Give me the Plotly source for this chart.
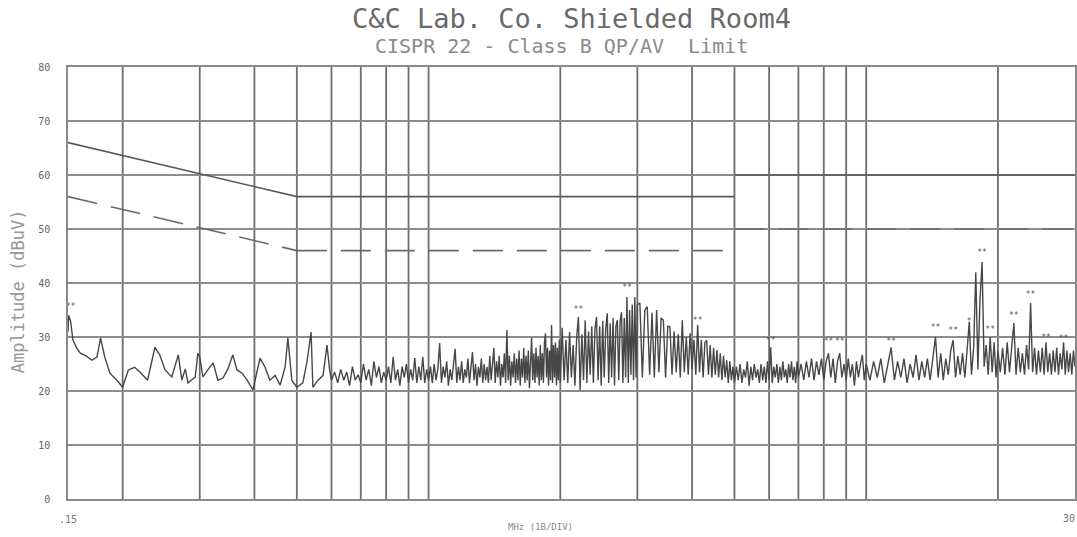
import math
import plotly.graph_objects as go

# ---------------- data ----------------
# 0.15 - 0.6 MHz trace
r1_freq = [0.150, 0.1505, 0.152, 0.154, 0.157, 0.160, 0.165, 0.170, 0.1747, 0.178,
           0.182, 0.187, 0.194, 0.200, 0.206, 0.213, 0.219, 0.228, 0.237, 0.243,
           0.250, 0.259, 0.268, 0.273, 0.278, 0.282, 0.293, 0.297, 0.300, 0.305,
           0.313, 0.322, 0.330, 0.339, 0.348, 0.357, 0.365, 0.375, 0.385, 0.397,
           0.412, 0.423, 0.434, 0.446, 0.458, 0.470, 0.477, 0.487, 0.500, 0.516,
           0.527, 0.539, 0.544, 0.559, 0.574, 0.586, 0.594]
r1_db = [31.0, 34.0, 33.0, 29.4, 28.0, 27.0, 26.5, 25.7, 26.3, 29.8,
         26.3, 23.3, 22.0, 20.7, 23.9, 24.4, 23.5, 22.0, 28.1, 26.7,
         23.9, 22.6, 26.7, 22.0, 24.1, 21.5, 22.6, 27.0, 26.3, 22.6,
         23.9, 25.2, 22.0, 22.4, 24.1, 26.7, 23.9, 23.3, 22.0, 20.2,
         26.1, 24.4, 22.0, 22.9, 21.1, 24.4, 29.8, 22.0, 20.7, 21.5,
         25.2, 30.9, 20.7, 22.0, 22.9, 28.5, 24.0]

# 0.60 - 1.00 MHz
a_freq = [0.60, 0.61, 0.62, 0.63, 0.64, 0.65, 0.66, 0.67, 0.68, 0.69,
          0.70, 0.71, 0.72, 0.73, 0.74, 0.75, 0.76, 0.77, 0.78, 0.79,
          0.80, 0.81, 0.82, 0.83, 0.84, 0.85, 0.86, 0.87, 0.88, 0.89,
          0.90, 0.91, 0.92, 0.93, 0.94, 0.95, 0.96, 0.97, 0.98, 0.99,
          1.00]
a_db = [22.0, 23.5, 21.5, 24.0, 22.0, 23.5, 21.0, 24.5, 22.0, 23.0,
        21.5, 25.0, 22.0, 24.0, 21.0, 25.5, 22.5, 24.5, 21.5, 23.5,
        22.0, 24.5, 21.5, 26.3, 22.0, 24.0, 21.0, 24.5, 22.5, 25.0,
        21.5, 24.0, 22.0, 26.1, 21.5, 24.5, 22.0, 26.3, 21.5, 24.0,
        22.0]

# 1.01 - 2.00 MHz
b_freq = [1.01, 1.02, 1.03, 1.04, 1.05, 1.06, 1.07, 1.08, 1.09, 1.10,
          1.11, 1.12, 1.13, 1.14, 1.15, 1.16, 1.17, 1.18, 1.19, 1.20,
          1.21, 1.22, 1.23, 1.24, 1.25, 1.26, 1.27, 1.28, 1.29, 1.30,
          1.31, 1.32, 1.33, 1.34, 1.35, 1.36, 1.37, 1.38, 1.39, 1.40,
          1.41, 1.42, 1.43, 1.44, 1.45, 1.46, 1.47, 1.48, 1.49, 1.50,
          1.51, 1.52, 1.53, 1.54, 1.55, 1.56, 1.57, 1.58, 1.59, 1.60,
          1.61, 1.62, 1.63, 1.64, 1.65, 1.66, 1.67, 1.68, 1.69, 1.70,
          1.71, 1.72, 1.73, 1.74, 1.75, 1.76, 1.77, 1.78, 1.79, 1.80,
          1.81, 1.82, 1.83, 1.84, 1.85, 1.86, 1.87, 1.88, 1.89, 1.90,
          1.91, 1.92, 1.93, 1.94, 1.95, 1.96, 1.97, 1.98, 1.99, 2.00]
b_db = [24.5, 21.5, 25.0, 22.0, 24.0, 28.9, 21.5, 24.5, 22.5, 25.5,
        21.0, 24.0, 22.0, 25.0, 27.8, 21.5, 24.5, 22.0, 25.5, 21.5,
        24.0, 22.5, 26.0, 21.5, 24.5, 27.2, 22.0, 25.0, 21.0, 24.5,
        22.5, 26.0, 21.5, 25.0, 22.0, 24.5, 21.5, 26.5, 22.0, 25.0,
        28.0, 21.5, 25.5, 22.5, 26.5, 21.0, 25.0, 22.5, 27.0, 21.5,
        31.3, 22.0, 26.5, 21.0, 25.5, 22.5, 27.0, 21.5, 26.0, 22.0,
        27.5, 21.0, 26.0, 22.5, 28.0, 21.5, 26.5, 22.0, 27.5, 20.5,
        26.0, 29.8, 22.0, 27.0, 21.5, 28.0, 22.5, 26.5, 21.0, 28.5,
        22.0, 27.0, 21.5, 29.0, 30.7, 22.5, 28.0, 21.0, 27.5, 22.0,
        32.2, 21.5, 28.5, 22.5, 29.0, 21.0, 28.0, 22.0, 29.5, 21.5]

# 2.02 - 3.00 MHz
c1_freq = [2.02, 2.04, 2.06, 2.08, 2.10, 2.12, 2.14, 2.16, 2.18, 2.20,
           2.22, 2.24, 2.26, 2.28, 2.30, 2.32, 2.34, 2.36, 2.38, 2.40,
           2.42, 2.44, 2.46, 2.48, 2.50, 2.52, 2.54, 2.56, 2.58, 2.60,
           2.62, 2.64, 2.66, 2.68, 2.70, 2.72, 2.74, 2.76, 2.78, 2.80,
           2.82, 2.84, 2.86, 2.88, 2.90, 2.92, 2.94, 2.96, 2.98, 3.00]
c1_db = [31.7, 22.0, 29.5, 21.5, 30.9, 22.5, 28.5, 21.0, 30.0, 33.7,
         20.2, 30.5, 22.0, 33.1, 21.5, 31.0, 23.0, 32.0, 21.5, 31.5,
         33.7, 22.0, 32.0, 21.0, 33.0, 22.5, 31.5, 34.4, 21.5, 32.5,
         22.5, 33.5, 21.0, 32.0, 33.1, 22.0, 33.0, 34.6, 21.5, 33.5,
         22.5, 37.4, 21.5, 35.0, 23.0, 36.0, 22.0, 37.4, 22.5, 36.0]

# 3.04 - 5.00 MHz
c2_freq = [3.04, 3.08, 3.12, 3.16, 3.20, 3.24, 3.28, 3.32, 3.36, 3.40,
           3.44, 3.48, 3.52, 3.56, 3.60, 3.64, 3.68, 3.72, 3.76, 3.80,
           3.84, 3.88, 3.92, 3.96, 4.00, 4.04, 4.08, 4.12, 4.16, 4.20,
           4.24, 4.28, 4.32, 4.36, 4.40, 4.44, 4.48, 4.52, 4.56, 4.60,
           4.64, 4.68, 4.72, 4.76, 4.80, 4.84, 4.88, 4.92, 4.96, 5.00]
c2_db = [36.3, 22.5, 35.0, 35.6, 23.0, 34.5, 22.5, 35.0, 23.5, 33.5,
         33.1, 22.5, 32.0, 31.9, 23.0, 31.0, 23.5, 30.5, 22.5, 33.1,
         23.5, 30.0, 23.0, 30.7, 24.0, 29.5, 23.0, 32.2, 23.5, 29.5,
         22.5, 29.0, 29.4, 23.0, 28.5, 22.5, 28.0, 23.0, 27.6, 22.5,
         27.0, 22.0, 26.5, 22.5, 25.7, 21.5, 25.5, 22.0, 24.5, 21.5]

# 5.05 - 7.00 MHz
d1_freq = [5.05, 5.10, 5.15, 5.20, 5.25, 5.30, 5.35, 5.40, 5.45, 5.50,
           5.55, 5.60, 5.65, 5.70, 5.75, 5.80, 5.85, 5.90, 5.95, 6.00,
           6.05, 6.10, 6.15, 6.20, 6.25, 6.30, 6.35, 6.40, 6.45, 6.50,
           6.55, 6.60, 6.65, 6.70, 6.75, 6.80, 6.85, 6.90, 6.95, 7.00]
d1_db = [24.5, 22.0, 25.0, 21.5, 24.0, 22.5, 25.5, 21.0, 24.5, 22.0,
         25.0, 22.5, 24.0, 21.5, 25.0, 22.0, 24.5, 21.5, 25.5, 22.0,
         28.1, 21.5, 24.5, 22.5, 25.0, 21.5, 24.5, 22.0, 25.5, 22.5,
         24.0, 21.5, 25.0, 22.5, 25.5, 22.0, 24.5, 21.5, 25.5, 22.5]

# 7.1 - 10.0 MHz
d2_freq = [7.1, 7.2, 7.3, 7.4, 7.5, 7.6, 7.7, 7.8, 7.9, 8.0,
           8.1, 8.2, 8.3, 8.4, 8.5, 8.6, 8.7, 8.8, 8.9, 9.0,
           9.1, 9.2, 9.3, 9.4, 9.5, 9.6, 9.7, 9.8, 9.9, 10.0]
d2_db = [25.0, 22.0, 25.5, 22.5, 26.0, 22.0, 25.5, 23.0, 26.0, 22.0,
         25.5, 27.0, 22.5, 26.0, 21.5, 25.5, 27.0, 22.5, 25.0, 22.0,
         26.0, 22.5, 25.0, 21.0, 25.5, 22.5, 25.0, 26.7, 22.0, 25.0]

# 10.2 - 20.0 MHz
e1_freq = [10.2, 10.4, 10.6, 10.8, 11.0, 11.2, 11.4, 11.6, 11.8, 12.0,
           12.2, 12.4, 12.6, 12.8, 13.0, 13.2, 13.4, 13.6, 13.8, 14.0,
           14.2, 14.4, 14.6, 14.8, 15.0, 15.2, 15.4, 15.6, 15.8, 16.0,
           16.2, 16.4, 16.6, 16.8, 17.0, 17.2, 17.4, 17.6, 17.8, 18.0,
           18.2, 18.4, 18.6, 18.8, 19.0, 19.2, 19.4, 19.6, 19.8, 20.0]
e1_db = [22.0, 25.5, 22.5, 26.0, 21.5, 25.0, 28.1, 22.0, 25.5, 22.5,
         26.0, 21.5, 25.0, 22.5, 26.7, 22.0, 25.5, 22.5, 26.0, 22.0,
         26.5, 30.0, 22.5, 27.0, 22.0, 26.0, 23.0, 27.5, 29.4, 22.5,
         26.5, 23.0, 27.0, 22.5, 27.5, 32.8, 23.0, 28.0, 42.0, 24.0,
         37.0, 43.9, 24.5, 28.5, 23.0, 30.0, 23.5, 29.0, 22.5, 27.5]

# 20.25 - 30.0 MHz
e2_freq = [20.25, 20.5, 20.75, 21.0, 21.25, 21.5, 21.75, 22.0, 22.25, 22.5,
           22.75, 23.0, 23.25, 23.5, 23.75, 24.0, 24.25, 24.5, 24.75, 25.0,
           25.25, 25.5, 25.75, 26.0, 26.25, 26.5, 26.75, 27.0, 27.25, 27.5,
           27.75, 28.0, 28.25, 28.5, 28.75, 29.0, 29.25, 29.5, 29.75, 30.0]
e2_db = [23.5, 28.0, 23.0, 29.0, 23.5, 27.5, 32.6, 23.0, 28.0, 23.5,
         27.0, 23.0, 28.5, 24.0, 36.3, 23.5, 28.0, 23.0, 27.5, 23.5,
         28.0, 23.0, 29.0, 23.5, 27.0, 23.0, 27.5, 23.5, 28.0, 23.0,
         27.0, 24.0, 29.0, 23.0, 27.5, 23.5, 27.0, 23.0, 27.5, 24.5]

# peak markers
mk_freq = [0.152, 2.20, 2.84, 4.12, 6.05, 8.2, 8.7, 11.4, 14.4, 15.8,
           17.2, 18.4, 19.2, 21.75, 23.75, 25.75, 28.25]
mk_db = [35.6, 35.0, 39.0, 33.0, 29.2, 29.0, 29.0, 29.0, 31.7, 31.2,
         32.8, 45.5, 31.3, 33.8, 37.8, 29.8, 29.6]
mk_text = ["**", "**", "**", "**", "**", "**", "**", "**", "**", "**",
           "*", "**", "**", "**", "**", "**", "**"]

# CISPR 22 Class B limits
qp_freq = [0.15, 0.5, None, 0.5, 5.0, None, 5.0, 30.0]
qp_db = [66, 56, None, 56, 56, None, 60, 60]
av_freq = [0.15, 0.5, None, 0.5, 5.0, None, 5.0, 30.0]
av_db = [56, 46, None, 46, 46, None, 50, 50]

grid_freqs = [0.2, 0.3, 0.4, 0.5, 0.6, 0.7, 0.8, 0.9, 1, 2, 3, 4, 5, 6, 7, 8, 9, 10, 20]
y_ticks = [0, 10, 20, 30, 40, 50, 60, 70, 80]
x_start, x_stop = 0.15, 30.0
x_start_text, x_stop_text = ".15", "30"

# ---------------- figure ----------------
segs = [(r1_freq, r1_db), (a_freq, a_db), (b_freq, b_db), (c1_freq, c1_db),
        (c2_freq, c2_db), (d1_freq, d1_db), (d2_freq, d2_db), (e1_freq, e1_db),
        (e2_freq, e2_db)]
tr_f, tr_d = [], []
for f, d in segs:
    for fi, di in zip(f, d):
        tr_f.append(fi)
        tr_d.append(di)

MONO = "DejaVu Sans Mono"
fig = go.Figure()

for g in grid_freqs:
    fig.add_shape(type="line", xref="x", yref="paper", x0=g, x1=g, y0=0, y1=1,
                  line=dict(color="#6e6e6e", width=1.8), layer="below")

fig.add_trace(go.Scatter(x=qp_freq, y=qp_db, mode="lines",
                         line=dict(color="#5a5a5a", width=1.6), showlegend=False))
fig.add_trace(go.Scatter(x=av_freq, y=av_db, mode="lines",
                         line=dict(color="#6a6a6a", width=1.6, dash="30px,14px"),
                         showlegend=False))
fig.add_trace(go.Scatter(x=tr_f, y=tr_d, mode="lines",
                         line=dict(color="#474747", width=1.4), showlegend=False))
fig.add_trace(go.Scatter(x=mk_freq, y=mk_db, mode="text", text=mk_text,
                         textfont=dict(family=MONO, size=8, color="#555"),
                         showlegend=False))

fig.update_xaxes(type="log", range=[math.log10(x_start), math.log10(x_stop)],
                 tickvals=[x_start], ticktext=[x_start_text], showgrid=False,
                 zeroline=False, showline=True, mirror=True, linecolor="#8a8a8a",
                 linewidth=1.6, ticks="", ticklabelstandoff=10,
                 tickfont=dict(family=MONO, size=10, color="#777"), automargin=False)
fig.update_yaxes(range=[0, 80], tickvals=y_ticks, showgrid=True, gridcolor="#8c8c8c",
                 gridwidth=1.5, zeroline=False, showline=True, mirror=True,
                 linecolor="#8a8a8a", linewidth=1.6, ticks="", ticklabelstandoff=14,
                 tickfont=dict(family=MONO, size=10, color="#666"), automargin=False)

fig.add_annotation(text=x_stop_text, xref="x", yref="paper", x=math.log10(x_stop),
                   y=-0.044, xanchor="right", yanchor="middle", xshift=2,
                   showarrow=False, font=dict(family=MONO, size=10, color="#777"))
fig.add_annotation(text="C&C Lab. Co. Shielded Room4", xref="paper", yref="paper",
                   x=0.5, y=1.113, xanchor="center", yanchor="middle", showarrow=False,
                   font=dict(family=MONO, size=27, color="#6a6a6a"))
fig.add_annotation(text="CISPR 22 - Class B QP/AV  Limit", xref="paper", yref="paper",
                   x=0.49, y=1.049, xanchor="center", yanchor="middle", showarrow=False,
                   font=dict(family=MONO, size=20, color="#8a8a8a"))
fig.add_annotation(text="Amplitude (dBuV)", xref="paper", yref="paper",
                   x=-0.05, y=0.48, xanchor="center", yanchor="middle", textangle=-90,
                   showarrow=False, font=dict(family=MONO, size=17, color="#999"))
fig.add_annotation(text="MHz (1B/DIV)", xref="paper", yref="paper",
                   x=0.469, y=-0.065, xanchor="center", yanchor="middle",
                   showarrow=False, font=dict(family=MONO, size=9, color="#888"))

fig.update_layout(width=1077, height=537, margin=dict(l=68, r=2, t=67, b=38),
                  paper_bgcolor="white", plot_bgcolor="white", autosize=False)

post = ("document.body.style.margin='0px';document.body.style.padding='0px';"
        "var gd=document.getElementById('{plot_id}');"
        "Plotly.relayout(gd,{width:1077,height:537});")
fig.write_html("out.html", config={"responsive": False, "displayModeBar": False},
               post_script=post)
